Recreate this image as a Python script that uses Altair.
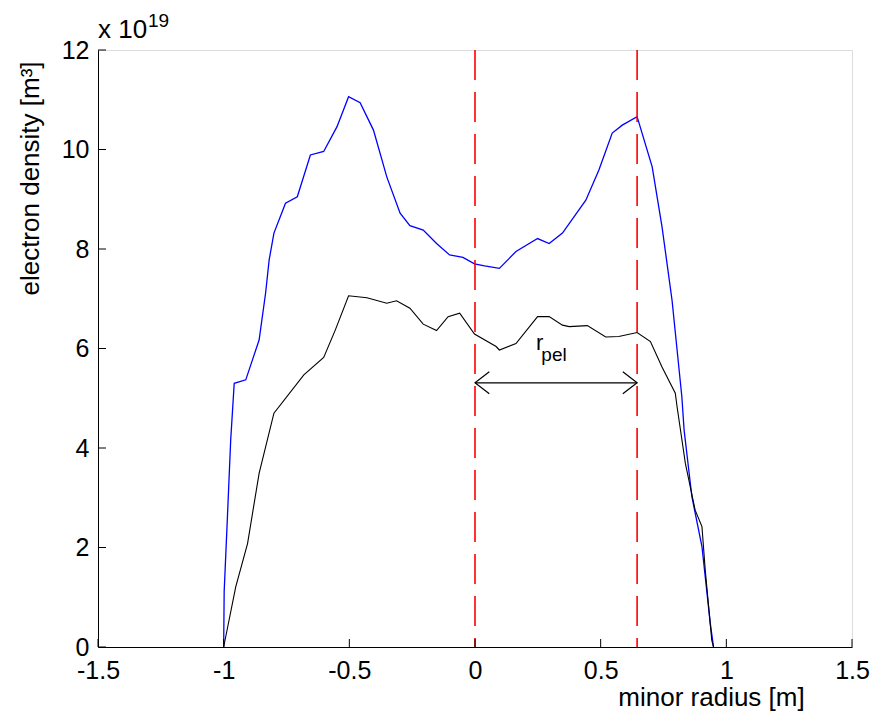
import altair as alt
import pandas as pd

# ---- data (density in units of 1e19 m^-3, radius in m) ----
blue_x = [-1.00, -0.998, -0.985, -0.972, -0.958, -0.912, -0.859, -0.833, -0.819, -0.800,
          -0.754, -0.707, -0.655, -0.602, -0.549, -0.503, -0.457, -0.404, -0.351, -0.298,
          -0.259, -0.206, -0.153, -0.101, -0.048, -0.002, 0.038, 0.097, 0.163, 0.249,
          0.295, 0.348, 0.441, 0.493, 0.546, 0.586, 0.645, 0.705, 0.744, 0.784,
          0.823, 0.832, 0.863, 0.903, 0.936, 0.949]
blue_y = [0.0, 1.11, 2.62, 4.16, 5.30, 5.37, 6.17, 7.12, 7.78, 8.32,
          8.92, 9.05, 9.89, 9.96, 10.46, 11.06, 10.94, 10.39, 9.45, 8.72,
          8.47, 8.38, 8.11, 7.88, 7.83, 7.70, 7.66, 7.61, 7.95, 8.21,
          8.11, 8.32, 8.98, 9.59, 10.33, 10.49, 10.66, 9.65, 8.45, 6.97,
          5.03, 4.36, 3.02, 2.02, 0.48, 0.0]

black_x = [-1.00, -0.952, -0.905, -0.859, -0.800, -0.681, -0.602, -0.556, -0.503, -0.430,
           -0.351, -0.312, -0.259, -0.206, -0.153, -0.107, -0.061, -0.002, 0.084, 0.097,
           0.163, 0.249, 0.295, 0.348, 0.375, 0.447, 0.520, 0.572, 0.645, 0.698,
           0.744, 0.797, 0.804, 0.837, 0.876, 0.903, 0.916, 0.942, 0.949]
black_y = [0.0, 1.21, 2.08, 3.49, 4.70, 5.47, 5.82, 6.37, 7.06, 7.02,
           6.91, 6.96, 6.81, 6.49, 6.36, 6.64, 6.71, 6.29, 6.04, 5.97,
           6.10, 6.64, 6.64, 6.47, 6.44, 6.46, 6.23, 6.24, 6.32, 6.14,
           5.63, 5.10, 4.83, 3.69, 2.75, 2.42, 1.55, 0.14, 0.0]

x_ticks = [-1.5, -1, -0.5, 0, 0.5, 1, 1.5]
y_ticks = [0, 2, 4, 6, 8, 10, 12]

pellet_lines = [0.0, 0.645]   # red dashed markers
arrow_y = 5.31                # r_pel arrow height
r_label_pos = (0.243, 5.97)
pel_label_pos = (0.264, 5.75)

FONT = "Liberation Sans"
W, H = 754, 597
TICK = 8
LABEL_SIZE = 25

xs = alt.Scale(domain=[-1.5, 1.5], nice=False, zero=False)
ys = alt.Scale(domain=[0, 12], nice=False, zero=False)

x_axis = alt.Axis(values=x_ticks, ticks=False, tickSize=0, grid=False,
                  domainColor="black", domainWidth=1,
                  labelFont=FONT, labelFontSize=LABEL_SIZE, labelColor="black",
                  labelPadding=31, labelBaseline="alphabetic", labelFlush=False,
                  labelOverlap=False, labelExpr="toString(datum.value)",
                  title="minor radius [m]", titleFont=FONT, titleFontSize=26,
                  titleFontWeight="normal", titleColor="black",
                  titleX=613, titleY=58, titleAlign="center", titleBaseline="alphabetic")
y_axis = alt.Axis(values=y_ticks, ticks=False, tickSize=0, grid=False,
                  domainColor="black", domainWidth=1,
                  labelFont=FONT, labelFontSize=LABEL_SIZE, labelColor="black",
                  labelPadding=9, labelBaseline="middle", labelFlush=False,
                  labelOverlap=False,
                  title="electron density [m³]", titleFont=FONT, titleFontSize=26,
                  titleFontWeight="normal", titleColor="black",
                  titleX=-60, titleY=128, titleAlign="center", titleBaseline="alphabetic")

df_blue = pd.DataFrame({"r": blue_x, "n": blue_y, "i": list(range(len(blue_x)))})
df_black = pd.DataFrame({"r": black_x, "n": black_y, "i": list(range(len(black_x)))})

blue = alt.Chart(df_blue).mark_line(color="#0000ff", strokeWidth=1.3).encode(
    x=alt.X("r:Q", scale=xs, axis=x_axis),
    y=alt.Y("n:Q", scale=ys, axis=y_axis),
    order="i:Q")

black = alt.Chart(df_black).mark_line(color="black", strokeWidth=1.1).encode(
    x=alt.X("r:Q", scale=xs), y=alt.Y("n:Q", scale=ys), order="i:Q")

df_red = pd.DataFrame({"r": pellet_lines, "n": [12.0] * len(pellet_lines),
                       "n2": [0.0] * len(pellet_lines)})
red = alt.Chart(df_red).mark_rule(color="#ff0000", strokeWidth=1.6, strokeDash=[30, 12]).encode(
    x=alt.X("r:Q", scale=xs), y=alt.Y("n:Q", scale=ys), y2="n2:Q")

df_arrow = pd.DataFrame({"r": [pellet_lines[0]], "r2": [pellet_lines[1]], "n": [arrow_y]})
arrow = alt.Chart(df_arrow).mark_rule(color="black", strokeWidth=1.2).encode(
    x=alt.X("r:Q", scale=xs), x2="r2:Q", y=alt.Y("n:Q", scale=ys))

df_heads = pd.DataFrame({"r": pellet_lines, "n": [arrow_y, arrow_y], "s": ["left", "right"]})
heads = alt.Chart(df_heads).mark_point(filled=False, color="black", strokeWidth=1.2,
                                       size=484, opacity=1).encode(
    x=alt.X("r:Q", scale=xs), y=alt.Y("n:Q", scale=ys),
    shape=alt.Shape("s:N", scale=alt.Scale(domain=["left", "right"],
                                           range=["M1.3,-1L0,0L1.3,1", "M-1.3,-1L0,0L-1.3,1"]),
                    legend=None))

df_r = pd.DataFrame({"r": [r_label_pos[0]], "n": [r_label_pos[1]], "t": ["r"]})
r_txt = alt.Chart(df_r).mark_text(font=FONT, fontSize=22, align="left", baseline="alphabetic",
                                  color="black").encode(
    x=alt.X("r:Q", scale=xs), y=alt.Y("n:Q", scale=ys), text="t:N")
df_pel = pd.DataFrame({"r": [pel_label_pos[0]], "n": [pel_label_pos[1]], "t": ["pel"]})
pel_txt = alt.Chart(df_pel).mark_text(font=FONT, fontSize=19, align="left", baseline="alphabetic",
                                      color="black").encode(
    x=alt.X("r:Q", scale=xs), y=alt.Y("n:Q", scale=ys), text="t:N")

# inward tick marks (MATLAB style)
xt = alt.Chart(pd.DataFrame({"r": x_ticks})).mark_rule(color="black", strokeWidth=1).encode(
    x=alt.X("r:Q", scale=xs), y=alt.value(H), y2=alt.value(H - TICK))
yt = alt.Chart(pd.DataFrame({"n": y_ticks})).mark_rule(color="black", strokeWidth=1).encode(
    y=alt.Y("n:Q", scale=ys), x=alt.value(0), x2=alt.value(TICK))

# exponent label
exp_base = alt.Chart(pd.DataFrame({"t": ["x 10"]})).mark_text(
    font=FONT, fontSize=26, align="left", baseline="alphabetic", color="black").encode(
    x=alt.value(0), y=alt.value(-12), text="t:N")
exp_pow = alt.Chart(pd.DataFrame({"t": ["19"]})).mark_text(
    font=FONT, fontSize=19, align="left", baseline="alphabetic", color="black").encode(
    x=alt.value(50), y=alt.value(-23), text="t:N")

chart = alt.layer(blue, black, red, arrow, heads, r_txt, pel_txt, xt, yt, exp_base, exp_pow).properties(
    width=W, height=H,
    autosize=alt.AutoSizeParams(type="none"),
    padding={"left": 90, "top": 42, "right": 19, "bottom": 64},
).configure_view(stroke=None).configure(background="white")

chart.save("out.html", embed_options={"renderer": "svg", "actions": False})
